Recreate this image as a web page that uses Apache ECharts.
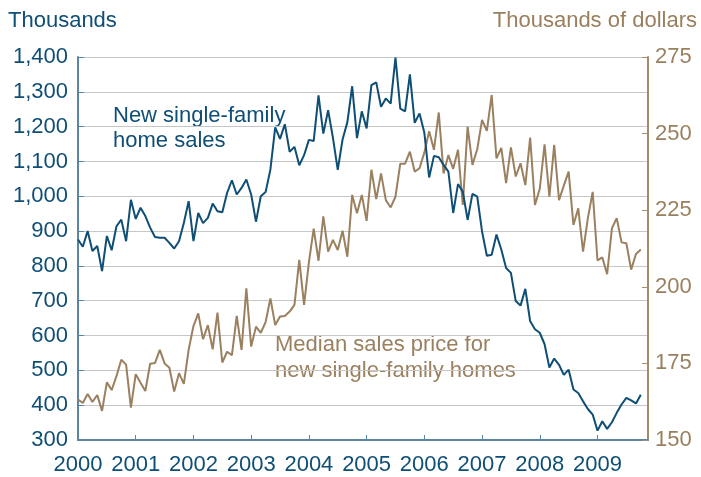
<!DOCTYPE html>
<html>
<head>
<meta charset="utf-8">
<script src="https://cdn.jsdelivr.net/npm/echarts@6/dist/echarts.min.js"></script>
<style>
  html, body { margin: 0; padding: 0; background: #fff; }
  #chart { width: 701px; height: 477px; }
</style>
</head>
<body>
<div id="chart"></div>
<script>
// Year labels for the monthly axis (one tick every 12 months, Jan 2000 onward)
const years = ['2000', '2001', '2002', '2003', '2004', '2005', '2006', '2007', '2008', '2009'];

// New single-family home sales, thousands (monthly, Jan 2000 – Oct 2009)
const sales = [
  876, 855, 900, 843, 857, 785, 886, 845, 914, 933, 871, 990,
  935, 967, 943, 910, 883, 881, 881, 866, 850, 871, 923, 986,
  871, 952, 923, 938, 979, 957, 954, 1010, 1046, 1005, 1024, 1048,
  1005, 927, 1000, 1012, 1077, 1198, 1165, 1207, 1128, 1142, 1089, 1118,
  1162, 1159, 1290, 1180, 1247, 1168, 1076, 1163, 1213, 1316, 1167, 1244,
  1195, 1319, 1327, 1257, 1281, 1266, 1398, 1252, 1244, 1350, 1211, 1238,
  1183, 1054, 1116, 1112, 1090, 1071, 952, 1035, 1013, 932, 1007, 999,
  899, 829, 832, 890, 847, 794, 780, 699, 686, 734, 641, 618,
  608, 575, 508, 534, 516, 487, 502, 445, 435, 411, 389, 373,
  327, 354, 332, 351, 378, 402, 421, 414, 405, 430
];

// Median sales price for new single-family homes, thousands of dollars
const price = [
  163.2, 162.1, 165.0, 162.4, 164.7, 159.5, 168.8, 166.3, 170.9, 176.2, 174.6, 160.6,
  171.5, 168.7, 166.0, 174.9, 175.1, 179.4, 175.0, 173.6, 165.8, 171.8, 168.3, 179.4,
  187.2, 191.3, 182.9, 187.5, 179.6, 191.6, 175.3, 178.8, 177.7, 190.5, 179.4, 199.5,
  180.5, 187.0, 185.0, 188.5, 196.2, 187.5, 190.3, 190.5, 191.9, 194.1, 208.8, 194.1,
  208.0, 219.0, 208.5, 223.0, 211.5, 215.3, 212.0, 218.3, 209.8, 230.0, 224.0, 230.0,
  221.5, 238.2, 228.6, 237.0, 228.3, 225.9, 229.4, 240.2, 240.2, 244.1, 237.6, 238.7,
  243.8, 250.8, 244.7, 256.9, 237.0, 243.0, 238.5, 244.7, 226.7, 252.3, 239.8, 244.9,
  254.5, 250.9, 262.6, 241.9, 245.3, 233.8, 245.5, 236.0, 240.3, 233.2, 248.7, 226.7,
  232.0, 246.5, 229.4, 246.3, 228.3, 233.0, 237.6, 220.2, 225.6, 211.5, 222.4, 231.0,
  208.6, 209.6, 204.1, 219.1, 222.4, 214.5, 214.2, 205.6, 210.7, 212.2
];

const BLUE = '#0f4e75';
const BROWN = '#9a805f';
const BLUE_AXIS = '#5a86a4';
const BROWN_AXIS = '#a48b6b';
const FONT = '"Liberation Sans", Arial, sans-serif';
const SIZE = 22;

const toPairs = arr => arr.map((v, i) => [i, v]);

const chart = echarts.init(document.getElementById('chart'), null, { renderer: 'canvas' });

chart.setOption({
  animation: false,
  backgroundColor: '#ffffff',
  textStyle: { fontFamily: FONT },
  grid: { left: 78, right: 53, top: 57, bottom: 37, containLabel: false },
  xAxis: {
    type: 'value',
    min: 0,
    max: 118.5,
    interval: 12,
    axisLine: { show: true, lineStyle: { color: BLUE_AXIS, width: 2 } },
    axisTick: { show: true, inside: true, length: 5, lineStyle: { color: BLUE_AXIS, width: 1 } },
    splitLine: { show: false },
    axisLabel: {
      color: BLUE,
      fontFamily: FONT,
      fontSize: SIZE,
      margin: 14,
      showMaxLabel: false,
      formatter: v => (v % 12 === 0 && years[v / 12]) ? years[v / 12] : ''
    }
  },
  yAxis: [
    {
      type: 'value',
      min: 300,
      max: 1400,
      interval: 100,
      position: 'left',
      axisLine: { show: true, lineStyle: { color: BLUE_AXIS, width: 2 } },
      axisTick: { show: true, inside: true, length: 6, lineStyle: { color: BLUE_AXIS, width: 1 } },
      splitLine: { show: true, lineStyle: { color: '#c6c6c6', width: 1 } },
      axisLabel: {
        color: BLUE,
        fontFamily: FONT,
        fontSize: SIZE,
        margin: 10,
        formatter: v => v.toLocaleString('en-US')
      }
    },
    {
      type: 'value',
      min: 150,
      max: 275,
      interval: 25,
      position: 'right',
      axisLine: { show: true, lineStyle: { color: BROWN_AXIS, width: 2 } },
      axisTick: { show: true, inside: true, length: 6, lineStyle: { color: BROWN_AXIS, width: 1 } },
      splitLine: { show: false },
      axisLabel: {
        color: BROWN,
        fontFamily: FONT,
        fontSize: SIZE,
        margin: 7
      }
    }
  ],
  series: [
    {
      name: 'New single-family home sales',
      type: 'line',
      yAxisIndex: 0,
      data: toPairs(sales),
      showSymbol: false,
      lineStyle: { color: BLUE, width: 2 },
      itemStyle: { color: BLUE },
      z: 3
    },
    {
      name: 'Median sales price for new single-family homes',
      type: 'line',
      yAxisIndex: 1,
      data: toPairs(price),
      showSymbol: false,
      lineStyle: { color: BROWN, width: 2 },
      itemStyle: { color: BROWN },
      z: 2
    }
  ],
  graphic: [
    {
      type: 'text', left: 8, top: 10,
      style: { text: 'Thousands', fill: BLUE, font: SIZE + 'px ' + FONT }
    },
    {
      type: 'text', right: 4, top: 10,
      style: { text: 'Thousands of dollars', fill: BROWN, font: SIZE + 'px ' + FONT }
    },
    {
      type: 'text', left: 113, top: 103,
      style: { text: 'New single-family\nhome sales', fill: BLUE, font: SIZE + 'px ' + FONT, lineHeight: 25 }
    },
    {
      type: 'text', left: 275, top: 332,
      style: { text: 'Median sales price for\nnew single-family homes', fill: BROWN, font: SIZE + 'px ' + FONT, lineHeight: 26 }
    }
  ]
});
</script>
</body>
</html>
